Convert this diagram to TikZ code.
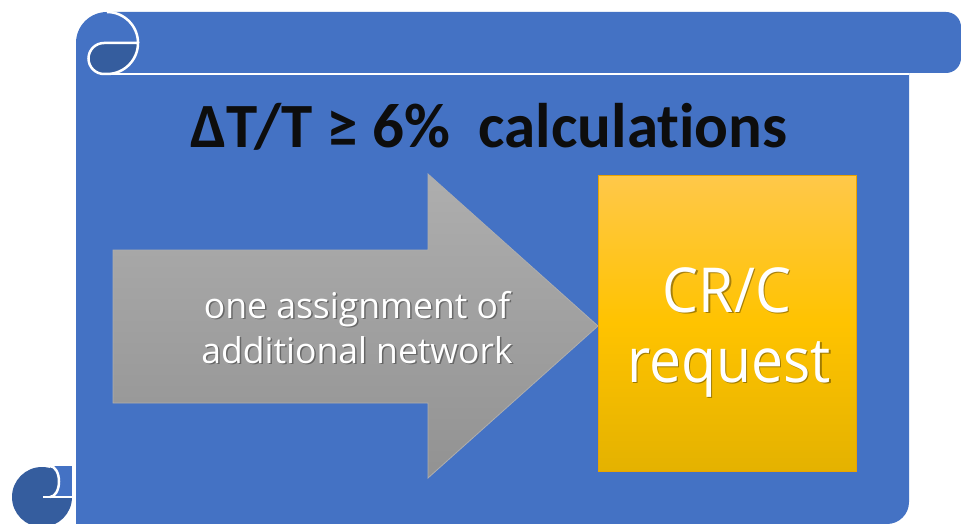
\documentclass[tikz,border=0pt]{standalone}
\usepackage{fontspec}
\setmainfont{Open Sans}
\newfontfamily\titlefont[Ligatures={NoCommon,NoRequired,NoContextual}]{Carlito}
\newfontfamily\boxfont[FakeStretch=0.92]{Open Sans}
\definecolor{scrollblue}{HTML}{4472C4}
\definecolor{curldark}{HTML}{355D9E}
\definecolor{titleink}{HTML}{0D0D0D}
\definecolor{arrtop}{HTML}{AEAEAE}
\definecolor{arrbot}{HTML}{929292}
\definecolor{goldtop}{HTML}{FFC84A}
\definecolor{goldmid}{HTML}{FFC300}
\definecolor{goldbot}{HTML}{E4B200}
\definecolor{goldedge}{HTML}{EBA300}
\tikzset{
  whiteline/.style={draw=white, line width=2.5pt},
  lbl/.style={text=white, inner sep=0pt, anchor=base},
  shd/.style={text=black, opacity=0.35, inner sep=0pt, anchor=base},
}
\begin{document}
\begin{tikzpicture}[x=1pt,y=-1pt]
\useasboundingbox (0,0) rectangle (961,524);
\fill[white] (0,0) rectangle (961,524);
% main scroll body
\fill[scrollblue] (76,524) -- (76,43) arc[start angle=180,end angle=270,radius=31]
  -- (946,12) arc[start angle=270,end angle=360,radius=15]
  -- (961,58) arc[start angle=0,end angle=90,radius=15]
  -- (909,73) -- (909,502) arc[start angle=0,end angle=90,radius=22] -- cycle;
% band separator
\draw[whiteline] (104,74) -- (909,74);
% top-left curl
\draw[whiteline] (107,12) arc[start angle=270,end angle=360,radius=31];
\filldraw[fill=curldark, whiteline] (104,43) -- (138,43) arc[start angle=0,end angle=90,radius=31]
  -- (104,74) arc[start angle=90,end angle=270,radius=15.5] -- cycle;
% bottom-left curl
\fill[curldark] (42,497) circle[radius=30];
\fill[scrollblue] (50,466) rectangle (72,497);
\fill[curldark] (50,466) arc[start angle=270,end angle=450,x radius=9,y radius=15.5] -- cycle;
\draw[whiteline] (50,466) arc[start angle=270,end angle=450,x radius=9,y radius=15.5];
\draw[whiteline] (43,497) -- (72,497);
% title
\node[text=titleink, inner sep=0pt, anchor=base] (title) at (489,148)
  {\titlefont\bfseries\fontsize{63}{70}\selectfont ΔT/T ≥ 6\%~ calculat\kern0pt ions};
% arrow
\path[top color=arrtop, bottom color=arrbot, draw=arrtop, line width=0.8pt]
  (113,250) -- (428,250) -- (428,174) -- (598,326) -- (428,478) -- (428,403) -- (113,403) -- cycle;
\node[shd] (s1) at (358.5,319.5) {\fontsize{35.5}{42}\selectfont one assignment of};
\node[shd] (s2) at (358.5,364.5) {\fontsize{35.5}{42}\selectfont additional network};
\node[lbl] (t1) at (357,318) {\fontsize{35.5}{42}\selectfont one assignment of};
\node[lbl] (t2) at (357,363) {\fontsize{35.5}{42}\selectfont additional network};
% gold box
\path[top color=goldtop, bottom color=goldbot, middle color=goldmid, draw=goldedge, line width=1pt]
  (598,175) rectangle (856,471);
\node[shd] (s3) at (728.5,313.5) {\boxfont\fontsize{62}{70}\selectfont CR/C};
\node[shd] (s4) at (730.5,383.5) {\boxfont\fontsize{62}{70}\selectfont request};
\node[lbl] (t3) at (727,312) {\boxfont\fontsize{62}{70}\selectfont CR/C};
\node[lbl] (t4) at (729,382) {\boxfont\fontsize{62}{70}\selectfont request};
\end{tikzpicture}
\end{document}
